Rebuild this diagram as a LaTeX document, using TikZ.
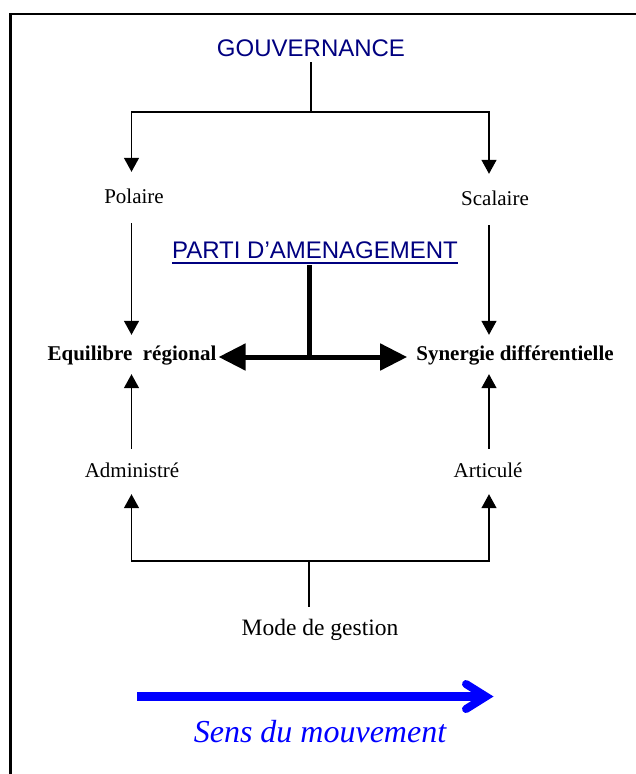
\documentclass[tikz,border=0pt]{standalone}
\usepackage{fontspec}
\setmainfont{Liberation Serif}
\newfontfamily\arialf{Liberation Sans}
\usetikzlibrary{arrows.meta}
\definecolor{navyc}{RGB}{0,0,128}
\definecolor{bluec}{RGB}{0,0,255}
\begin{document}
\begin{tikzpicture}[x=1pt,y=-1pt,
  thinline/.style={line width=1.4pt},
  thinarrow/.style={line width=1.4pt,-{Triangle[length=14pt,width=15pt]}},
  thickarrow/.style={line width=5pt,-{Triangle[length=27pt,width=26pt]}},
  lbl/.style={font=\fontsize{21}{24}\selectfont, text height=15pt, text depth=4pt, inner xsep=0pt, inner ysep=16pt, anchor=base},
  blbl/.style={lbl, font=\bfseries\fontsize{21}{24}\selectfont, inner ysep=10pt},
  titlebox/.style={font=\arialf\fontsize{24}{28}\selectfont, text=navyc, inner xsep=0pt, text depth=0pt, anchor=base},
]
\useasboundingbox (0,0) rectangle (636,774);
\begin{scope}
  \clip (0,0) rectangle (636,774);
  \draw[line width=2.6pt] (10.5,14) rectangle (660,800);
\end{scope}

% titles
\node[titlebox, inner ysep=6pt] (gouv) at (311,56) {GOUVERNANCE};
\node[titlebox, inner ysep=7pt] (parti) at (315,258) {PARTI D’AMENAGEMENT};
\draw[navyc, line width=1.6pt] ([yshift=-5pt]parti.base west) -- ([yshift=-5pt]parti.base east);

% labels
\node[lbl] (pol) at (134,203) {Polaire};
\node[lbl] (sca) at (495,205) {Scalaire};
\node[blbl, inner xsep=2pt] (eq) at (132,360) {Equilibre~ régional};
\node[blbl, inner xsep=9pt] (syn) at (515,360) {Synergie différentielle};
\node[lbl, inner ysep=13pt] (adm) at (132,477) {Administré};
\node[lbl, inner ysep=13pt] (art) at (488,477) {Articulé};
\node[lbl, font=\fontsize{23.5}{27}\selectfont, text height=16pt, inner ysep=12pt] (mode) at (320,635) {Mode de gestion};

% junctions
\coordinate (g0) at (311,112);
\coordinate (gL) at (131.5,112);
\coordinate (gR) at (489,112);
\coordinate (pj) at (309,357);
\coordinate (m0) at (309,561);
\coordinate (mL) at (131.5,561);
\coordinate (mR) at (489,561);

% top tree
\draw[thinline] (gouv.south) -- (g0);
\draw[thinarrow] (g0) -- (gL) -- (gL |- pol.north);
\draw[thinarrow] (g0) -- (gR) -- (gR |- sca.north);
\draw[thinarrow] (gL |- pol.south) -- (gL |- eq.north);
\draw[thinarrow] (gR |- sca.south) -- (gR |- syn.north);

% parti
\draw[line width=5pt] (pj |- parti.south) -- ([yshift=-2pt]pj);
\draw[thickarrow] (pj) -- (pj -| eq.east);
\draw[thickarrow] (pj) -- (pj -| syn.west);

% up arrows
\draw[thinarrow] (mL |- adm.north) -- (mL |- eq.south);
\draw[thinarrow] (mR |- art.north) -- (mR |- syn.south);

% bottom tree
\draw[thinline] (m0 |- mode.north) -- (m0);
\draw[thinarrow] (m0) -- (mL) -- (mL |- adm.south);
\draw[thinarrow] (m0) -- (mR) -- (mR |- art.south);

% movement arrow
\coordinate (b0) at (137,696.5);
\coordinate (b1) at (486,696.5);
\draw[bluec, line width=8.5pt] (b0) -- (b1);
\draw[bluec, line width=8pt, line cap=round, line join=miter] (466,684) -- (b1) -- (466,709);
\node[font=\itshape\fontsize{32}{36}\selectfont, text=bluec, anchor=base] (sens) at (320,742) {Sens du mouvement};
\end{tikzpicture}
\end{document}
